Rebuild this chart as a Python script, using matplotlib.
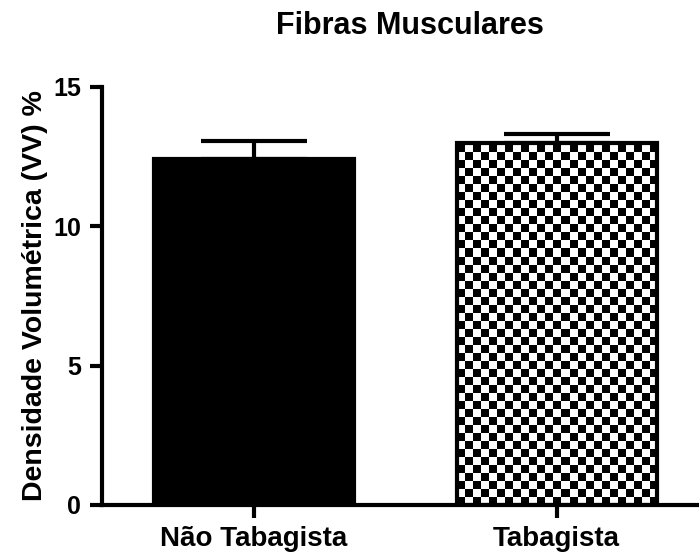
import numpy as np
import matplotlib
matplotlib.use("Agg")
import matplotlib.pyplot as plt

categories = ["Não Tabagista", "Tabagista"]
means = [12.4, 13.0]
errors = [0.65, 0.3]
yticks = [0, 5, 10, 15]

plt.rcParams['font.family'] = ['Liberation Sans', 'DejaVu Sans']
plt.rcParams['font.weight'] = 'bold'

fig = plt.figure(figsize=(6.99, 5.59), dpi=100)
ax = fig.add_axes([102 / 699, 1 - 505 / 559, (699 - 102) / 699, (505 - 87) / 559])

x = np.arange(len(categories))
width = 0.66
bars = ax.bar(x, means, width=width, color=['black', 'none'], edgecolor='black',
              linewidth=3, zorder=2)
ax.errorbar(x, means, yerr=[[0, 0], errors], fmt='none', ecolor='black',
            elinewidth=3, capsize=38, capthick=3, zorder=1)

ax.set_xlim(-0.5, 1.47)
ax.set_ylim(0, 15)

# checkerboard fill for second bar
b = bars[1]
bx0, by0 = b.get_x(), b.get_y()
bw, bh = b.get_width(), b.get_height()
fig.canvas.draw()
p0 = ax.transData.transform((bx0, by0))
p1 = ax.transData.transform((bx0 + bw, by0 + bh))
cell = 8.0
nx = int(np.ceil((p1[0] - p0[0]) / cell))
ny = int(np.ceil((p1[1] - p0[1]) / cell))
board = (np.add.outer(np.arange(ny), np.arange(nx)) % 2).astype(float)
inv = ax.transData.inverted()
q1 = inv.transform((p0[0] + nx * cell, p0[1] + ny * cell))
im = ax.imshow(board, cmap='gray', vmin=0, vmax=1, extent=(bx0, q1[0], by0, q1[1]),
               origin='lower', interpolation='nearest', aspect='auto', zorder=1.5)
im.set_clip_path(b)
ax.set_xlim(-0.5, 1.47)
ax.set_ylim(0, 15)

ax.set_xticks(x)
ax.set_xticklabels(categories, fontsize=20, fontweight='bold')
ax.set_yticks(yticks)
ax.set_yticklabels([str(t) for t in yticks], fontsize=18, fontweight='bold')
ax.set_ylabel("Densidade Volumétrica (VV) %", fontsize=20.5, fontweight='bold', labelpad=4)
ax.set_title("Fibras Musculares", fontsize=22, fontweight='bold', pad=38, x=0.515)

for s in ['top', 'right']:
    ax.spines[s].set_visible(False)
for s in ['left', 'bottom']:
    ax.spines[s].set_linewidth(3)
ax.tick_params(axis='x', width=3, length=9, pad=6)
ax.tick_params(axis='y', width=3, length=9, pad=6)

fig.savefig("out.png", dpi=100)
